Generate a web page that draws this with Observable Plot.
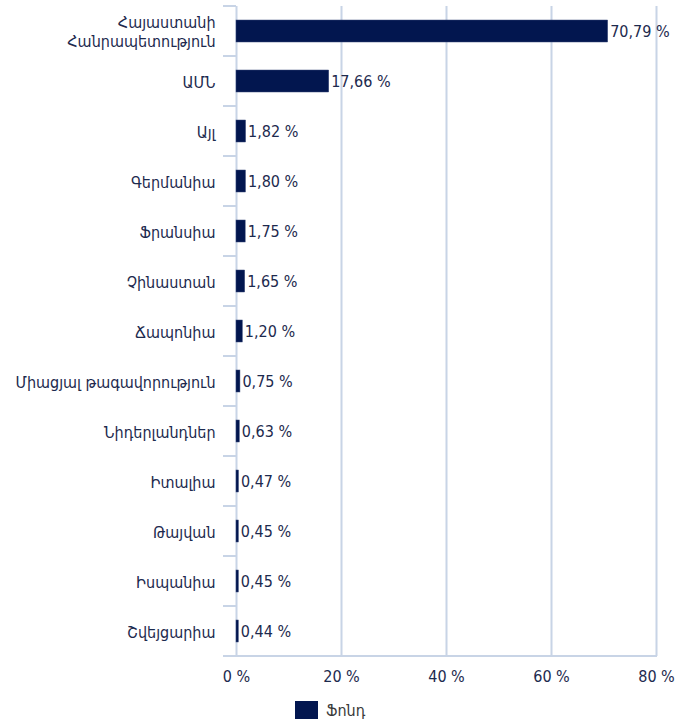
<!DOCTYPE html>
<html>
<head>
<meta charset="utf-8">
<script src="https://cdn.jsdelivr.net/npm/d3@7"></script>
<script src="https://cdn.jsdelivr.net/npm/@observablehq/plot@0.6"></script>
<style>
  html, body { margin: 0; padding: 0; background: #fff; }
  #chart svg { display: block; }
  #legend { display: flex; align-items: center; height: 20px; padding-left: 295px; font: 16px "DejaVu Sans Condensed", "DejaVu Sans", sans-serif; color: #3a3a3a; }
  #legend .sw { width: 23px; height: 18px; background: #02164f; margin-right: 8px; }
</style>
</head>
<body>
<div id="chart"></div>
<div id="legend"><span class="sw"></span><span>Ֆոնդ</span></div>
<script>
const categories = [
  "Հայաստանի\nՀանրապետություն",
  "ԱՄՆ",
  "Այլ",
  "Գերմանիա",
  "Ֆրանսիա",
  "Չինաստան",
  "Ճապոնիա",
  "Միացյալ թագավորություն",
  "Նիդերլանդներ",
  "Իտալիա",
  "Թայվան",
  "Իսպանիա",
  "Շվեյցարիա"
];
const values = [70.79, 17.66, 1.82, 1.80, 1.75, 1.65, 1.20, 0.75, 0.63, 0.47, 0.45, 0.45, 0.44];
const xTicks = [0, 20, 40, 60, 80];
const seriesName = "Ֆոնդ";

const data = categories.map((c, i) => ({cat: c, value: values[i]}));
const fmt = v => v.toFixed(2).replace(".", ",") + " %";
const gridColor = "#c8d4e6";
const textColor = "#1d2a4e";
const barColor = "#02164f";
const font = "DejaVu Sans Condensed, DejaVu Sans, sans-serif";

// category separator ticks drawn from the band scale
function bandTicks(index, scales, values, dims) {
  const y = scales.y;
  const bw = y.bandwidth();
  const st = y.step();
  const g = d3.create("svg:g");
  const x0 = dims.marginLeft;
  const bounds = categories.map(c => y(c) - (st - bw) / 2);
  bounds.push(y(categories[categories.length - 1]) + bw + (st - bw) / 2);
  for (const b of bounds) {
    g.append("line").attr("x1", x0 - 13).attr("x2", x0).attr("y1", b).attr("y2", b)
      .attr("stroke", gridColor).attr("stroke-width", 2);
  }
  const yb = bounds[bounds.length - 1];
  g.append("line").attr("x1", x0 - 13).attr("x2", dims.width - dims.marginRight + 1).attr("y1", yb).attr("y2", yb)
    .attr("stroke", gridColor).attr("stroke-width", 2);
  return g.node();
}

const chart = Plot.plot({
  width: 679,
  height: 700,
  marginLeft: 236,
  marginRight: 23,
  marginTop: 6,
  marginBottom: 44,
  style: {fontFamily: font, fontSize: "16px", color: textColor, background: "#fff"},
  x: {domain: [0, 80], ticks: xTicks, tickFormat: d => d + " %", label: null},
  y: {domain: categories, paddingInner: 0.55, paddingOuter: 0.275, label: null},
  marks: [
    Plot.ruleX(xTicks, {x: d => d, stroke: gridColor, strokeWidth: 2, strokeOpacity: 1}),
    bandTicks,
    Plot.barX(data, {y: "cat", x: "value", fill: barColor, stroke: "#3a4a78", strokeWidth: 0.5}),
    Plot.text(data, {y: "cat", x: "value", text: d => fmt(d.value), textAnchor: "start", dx: 2, fill: textColor, fontSize: 16}),
    Plot.axisX({ticks: xTicks, tickFormat: d => d + " %", tickSize: 0, tickPadding: 14, fontSize: 16, fill: textColor, label: null}),
    Plot.axisY({tickSize: 0, tickPadding: 21, fontSize: 16, fill: textColor, lineHeight: 1.2, label: null})
  ]
});
document.getElementById("chart").appendChild(chart);
</script>
</body>
</html>
